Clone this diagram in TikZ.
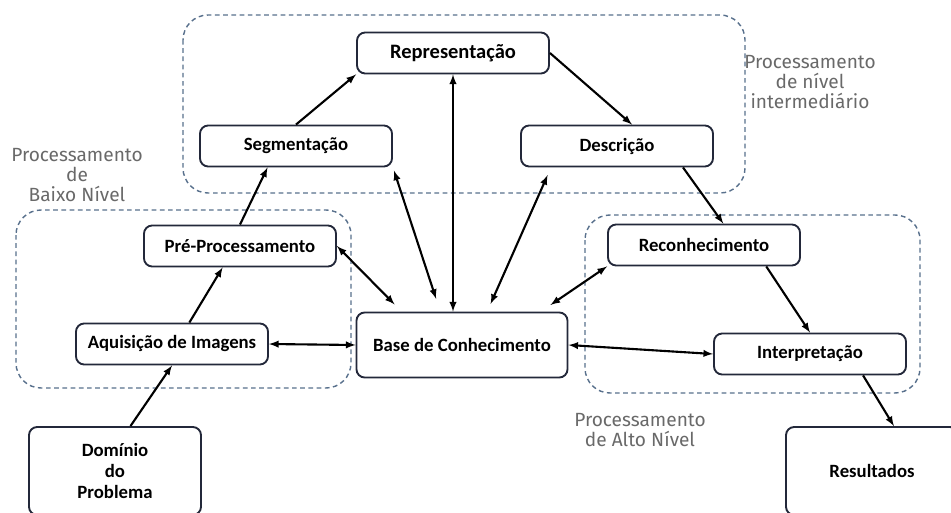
\documentclass[tikz,border=0pt]{standalone}
\usepackage{fontspec}
\setmainfont{Carlito}
\newfontfamily\labelfont{Fira Sans}
\usepackage{tikz}
\usetikzlibrary{arrows}

\definecolor{edgenavy}{RGB}{35,40,58}
\definecolor{groupblue}{RGB}{88,112,140}
\definecolor{labelgray}{RGB}{105,105,105}

\begin{document}
\begin{tikzpicture}[
				x=0.03cm, y=-0.03cm,
				node style/.style={
					draw=edgenavy,
					line width=1.6pt,
					rounded corners=7pt,
					align=center,
					minimum width=5.76cm,
					minimum height=1.23cm,
					inner sep=0pt,
					font=\fontsize{16}{18.3}\selectfont\bfseries,
					fill=white
				},
				group style/.style={
					draw=groupblue,
					line width=1.2pt,
					dash pattern=on 4pt off 3pt,
					rounded corners=0.75cm
				},
				label style/.style={
					text=labelgray,
					align=center,
					font=\labelfont\fontsize{16.3}{17}\selectfont
				},
				link/.style={->, line width=1.8pt, draw=black},
				kb link/.style={<->, line width=1.8pt, draw=black},
				>=latex
				]
				
				\clip (0,0) rectangle (951,513);
				
				% grupos
				\draw[group style] (183,15) rectangle (745,193);
				\draw[group style] (16,210) rectangle (351,388);
				\draw[group style] (585,215) rectangle (920,393);
				
				\node[label style] (lowlabel) at (77,175) {Processamento\\de\\Baixo Nível};
				\node[label style] (midlabel) at (810,82) {Processamento\\de nível\\intermediário};
				\node[label style] (highlabel) at (640,430) {Processamento\\de Alto Nível};
				
				% etapas
				\node[node style, font=\fontsize{17.5}{18.3}\selectfont\bfseries] (rep) at (453,53) {Representação};
				\node[node style] (seg) at (296,146) {Segmentação};
				\node[node style] (desc) at (617,146) {Descrição};
				\node[node style] (pre) at (240,246) {Pré-Processamento};
				\node[node style] (rec) at (704,245) {Reconhecimento};
				\node[node style] (aq) at (172,344) {Aquisição de Imagens};
				\node[node style, minimum width=6.33cm, minimum height=1.95cm] (base) at (462,345) {Base de Conhecimento};
				\node[node style] (int) at (810,354) {Interpretação};
				\node[node style, minimum width=5.16cm, minimum height=2.64cm] (dom) at (115,471) {Domínio\\do\\Problema};
				\node[node style, minimum width=5.16cm, minimum height=2.64cm] (res) at (872,471) {Resultados};
				
				
				\draw[link] (dom.71) -- (aq.south);
				\draw[link] (aq.51) -- (pre.231);
				\draw[link] (pre.north) -- (seg.217);
				\draw[link] (seg.north) -- (rep.south west);
				\draw[link] (rep.east) -- (desc.55);
				\draw[link] (desc.-18) -- (rec.48);
				\draw[link] (rec.-19) -- (int.north);
				\draw[link] (int.-22) -- (res.64);
				
				\draw[kb link] (aq.east) -- (base.west);
				\draw[kb link] (base.east) -- (int.west);
				\draw[kb link, shorten >=0.3cm] (pre.east) -- (base.151);
				\draw[kb link, shorten <=0.1cm, shorten >=0.4cm] (seg.south east) -- (base.123);
				\draw[kb link] (rep.south) -- (rep.south |- base.north);
				\draw[kb link, shorten <=0.25cm, shorten >=0.25cm] (desc.198) -- (base.53);
				\draw[kb link, shorten >=0.35cm] (rec.south west) -- (base.23);
				
			\end{tikzpicture}
\end{document}
